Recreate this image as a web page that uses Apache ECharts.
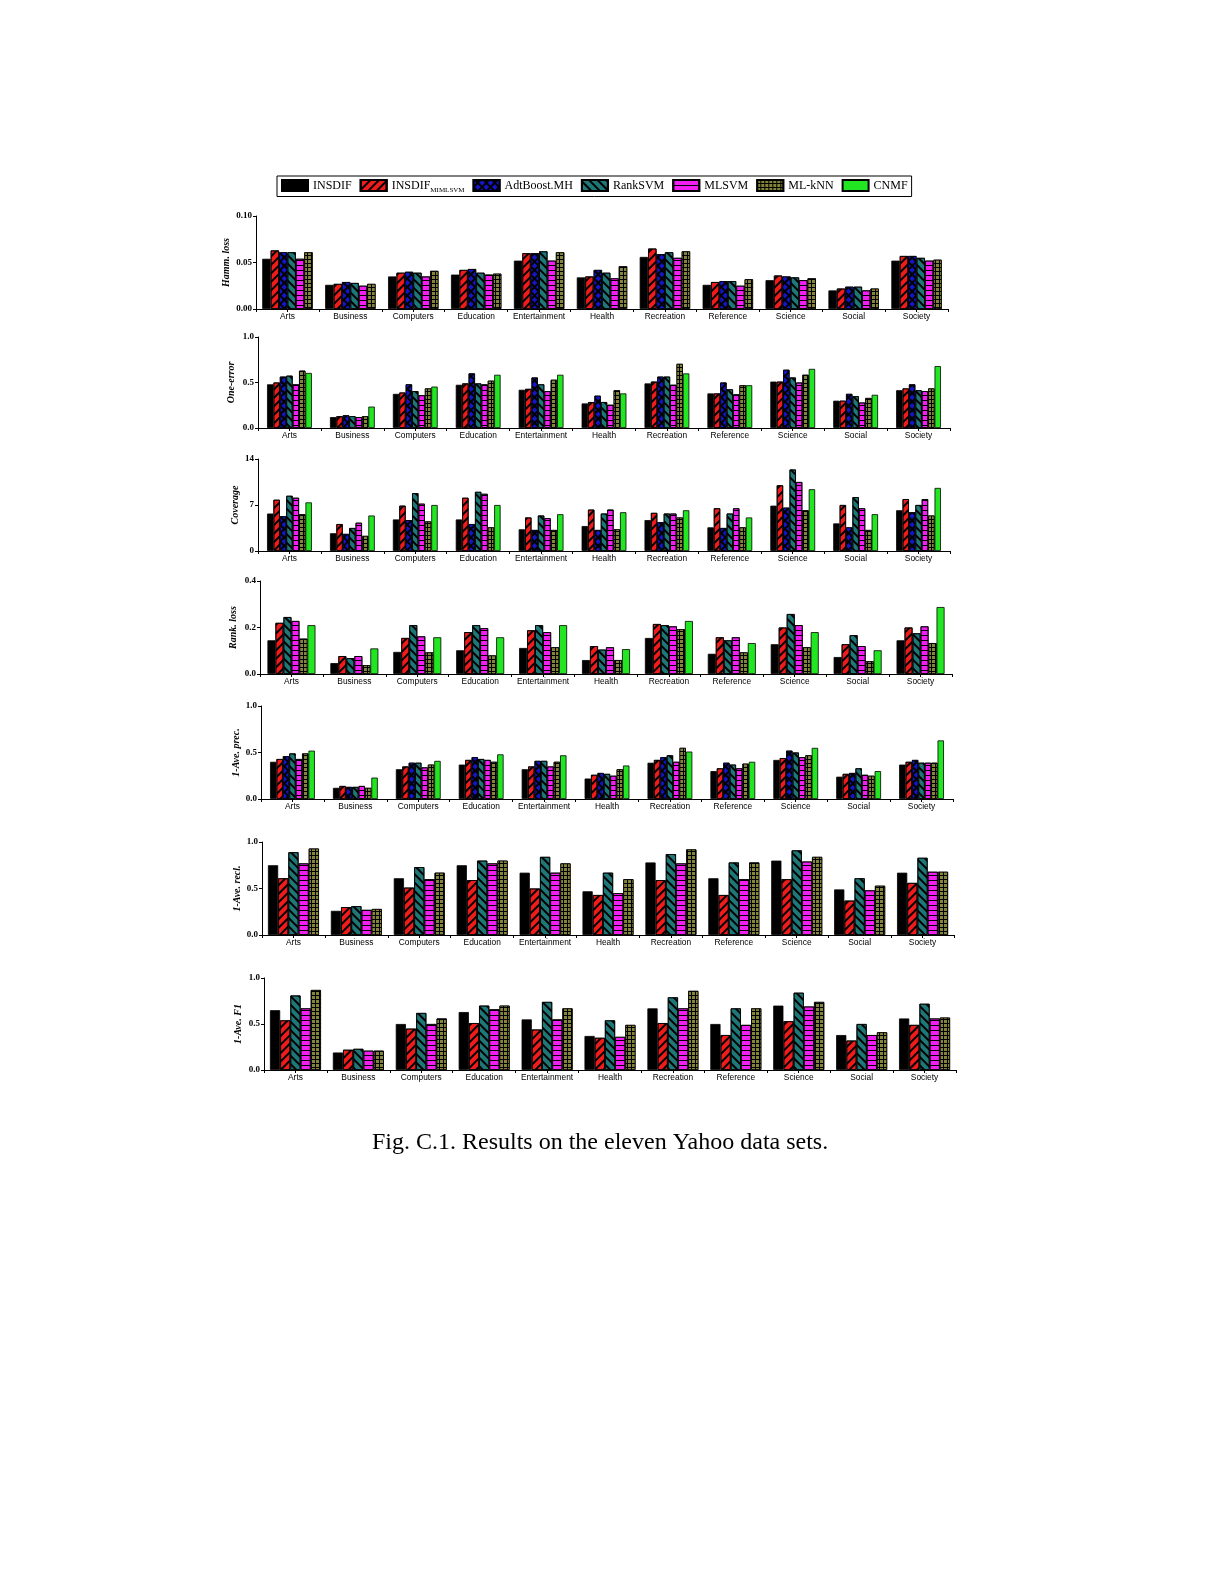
<!DOCTYPE html>
<html><head><meta charset="utf-8">
<script src="https://cdn.jsdelivr.net/npm/echarts@6/dist/echarts.min.js"></script>
<style>html,body{margin:0;padding:0;background:#fff}#c{width:1225px;height:1585px}</style>
</head><body><div id="c"></div>
<script>
const categories = ['Arts','Business','Computers','Education','Entertainment','Health','Recreation','Reference','Science','Social','Society'];
const methods = ['INSDIF','INSDIF_MIMLSVM','AdtBoost.MH','RankSVM','MLSVM','ML-kNN','CNMF'];

// rows follow the method indices listed in the *Methods arrays
const hammMethods = [0,1,2,3,4,5];
const hammLoss = [
  [0.054,0.026,0.035,0.037,0.052,0.034,0.056,0.026,0.031,0.020,0.052],
  [0.063,0.027,0.039,0.042,0.060,0.035,0.065,0.029,0.036,0.022,0.057],
  [0.061,0.029,0.040,0.043,0.060,0.042,0.059,0.030,0.035,0.024,0.057],
  [0.061,0.028,0.039,0.039,0.062,0.039,0.061,0.030,0.034,0.024,0.055],
  [0.054,0.025,0.035,0.037,0.052,0.033,0.055,0.025,0.031,0.020,0.052],
  [0.061,0.027,0.041,0.038,0.061,0.046,0.062,0.032,0.033,0.022,0.053]
];
const oneErrMethods = [0,1,2,3,4,5,6];
const oneError = [
  [0.48,0.12,0.375,0.475,0.42,0.27,0.49,0.38,0.51,0.30,0.415],
  [0.50,0.13,0.39,0.49,0.43,0.285,0.51,0.38,0.51,0.30,0.435],
  [0.565,0.14,0.48,0.60,0.555,0.355,0.565,0.50,0.64,0.375,0.48],
  [0.575,0.13,0.405,0.49,0.48,0.285,0.565,0.425,0.555,0.35,0.415],
  [0.48,0.12,0.36,0.48,0.405,0.255,0.475,0.37,0.50,0.28,0.405],
  [0.63,0.13,0.435,0.52,0.53,0.415,0.705,0.47,0.585,0.33,0.435],
  [0.605,0.235,0.455,0.585,0.585,0.38,0.60,0.47,0.65,0.365,0.68]
];
const coverageMethods = [0,1,2,3,4,5,6];
const coverage = [
  [5.7,2.7,4.8,4.8,3.3,3.8,4.7,3.6,6.9,4.2,6.2],
  [7.8,4.1,6.9,8.1,5.1,6.3,5.8,6.5,10.0,7.0,7.9],
  [5.3,2.6,4.7,4.1,3.2,3.2,4.4,3.5,6.6,3.6,5.9],
  [8.4,3.5,8.8,9.0,5.4,5.7,5.7,5.7,12.4,8.2,7.0],
  [8.1,4.3,7.2,8.7,5.0,6.3,5.7,6.5,10.5,6.5,7.9],
  [5.6,2.3,4.5,3.6,3.2,3.3,5.1,3.6,6.2,3.2,5.4],
  [7.4,5.4,7.0,7.0,5.6,5.9,6.2,5.1,9.4,5.6,9.6]
];
const rankMethods = [0,1,3,4,5,6];
const rankLoss = [
  [0.145,0.047,0.095,0.102,0.112,0.060,0.155,0.087,0.128,0.073,0.145],
  [0.220,0.077,0.155,0.180,0.188,0.120,0.215,0.158,0.200,0.128,0.200],
  [0.245,0.068,0.210,0.210,0.210,0.105,0.210,0.145,0.258,0.167,0.175],
  [0.228,0.077,0.162,0.197,0.180,0.115,0.205,0.158,0.210,0.120,0.205],
  [0.152,0.038,0.093,0.080,0.115,0.060,0.193,0.093,0.115,0.055,0.133],
  [0.210,0.110,0.158,0.158,0.210,0.107,0.228,0.133,0.180,0.102,0.288]
];
const precMethods = [0,1,2,3,4,5,6];
const avePrec = [
  [0.40,0.12,0.32,0.37,0.32,0.22,0.39,0.30,0.42,0.24,0.37],
  [0.43,0.14,0.35,0.42,0.35,0.26,0.42,0.33,0.44,0.27,0.40],
  [0.46,0.13,0.39,0.45,0.41,0.28,0.45,0.39,0.52,0.28,0.42],
  [0.49,0.13,0.39,0.43,0.41,0.27,0.47,0.37,0.50,0.33,0.39],
  [0.43,0.14,0.34,0.42,0.35,0.25,0.40,0.33,0.45,0.26,0.39],
  [0.49,0.12,0.37,0.40,0.40,0.32,0.55,0.38,0.47,0.25,0.39],
  [0.52,0.23,0.41,0.48,0.47,0.36,0.51,0.40,0.55,0.30,0.63]
];
const reclMethods = [0,1,3,4,5];
const aveRecl = [
  [0.75,0.26,0.61,0.75,0.67,0.47,0.78,0.61,0.80,0.49,0.67],
  [0.61,0.30,0.51,0.59,0.50,0.43,0.59,0.43,0.60,0.37,0.56],
  [0.89,0.31,0.73,0.80,0.84,0.67,0.87,0.78,0.91,0.61,0.83],
  [0.77,0.27,0.60,0.77,0.67,0.45,0.77,0.60,0.79,0.48,0.68],
  [0.93,0.28,0.67,0.80,0.77,0.60,0.92,0.78,0.84,0.53,0.68]
];
const f1Methods = [0,1,3,4,5];
const aveF1 = [
  [0.65,0.19,0.50,0.63,0.55,0.37,0.67,0.50,0.70,0.38,0.56],
  [0.54,0.22,0.45,0.51,0.44,0.35,0.51,0.38,0.53,0.32,0.49],
  [0.81,0.23,0.62,0.70,0.74,0.54,0.79,0.67,0.84,0.50,0.72],
  [0.67,0.21,0.50,0.66,0.55,0.36,0.67,0.49,0.69,0.38,0.56],
  [0.87,0.21,0.56,0.70,0.67,0.49,0.86,0.67,0.74,0.41,0.57]
];
const yTitles = ['Hamm. loss','One-error','Coverage','Rank. loss','1-Ave. prec.','1-Ave. recl.','1-Ave. F1'];
const yMax = [0.10,1.0,14,0.4,1.0,1.0,1.0];
const yStep = [0.05,0.5,7,0.2,0.5,0.5,0.5];
const yDigits = [2,1,0,1,1,1,1];

const styles = [
  {color:'#000000'},
  {color:'#f01c1c', decal:{symbol:'rect',symbolSize:1,color:'#000',dashArrayX:[1,0],dashArrayY:[1.2,3.2],rotation:-Math.PI/4}},
  {color:'#000000', decal:{symbol:'rect',symbolSize:1,color:'#1414c8',dashArrayX:[3.2,1.2],dashArrayY:[3.2,1.2],rotation:Math.PI/4}},
  {color:'#1f7878', decal:{symbol:'rect',symbolSize:1,color:'#000',dashArrayX:[1,0],dashArrayY:[1.2,3.2],rotation:Math.PI/4}},
  {color:'#f01ef0', decal:{symbol:'rect',symbolSize:1,color:'#000',dashArrayX:[1,0],dashArrayY:[1,3.5],rotation:0}},
  {color:'#000000', decal:{symbol:'rect',symbolSize:1,color:'#84843a',dashArrayX:[2.6,1],dashArrayY:[2.6,1],rotation:0}},
  {color:'#22e622'}
];

const panels = [
  {data:hammLoss, m:hammMethods, left:256, top:216, h:93, gap:25, bw:8.4},
  {data:oneError, m:oneErrMethods, left:258, top:337, h:91, gap:22, bw:6.4},
  {data:coverage, m:coverageMethods, left:258, top:459, h:92, gap:18, bw:6.4},
  {data:rankLoss, m:rankMethods, left:260, top:581, h:93, gap:22, bw:8.0},
  {data:avePrec, m:precMethods, left:261, top:706, h:93, gap:20, bw:6.4},
  {data:aveRecl, m:reclMethods, left:262, top:842, h:93, gap:20, bw:10.2},
  {data:aveF1, m:f1Methods, left:264, top:978, h:92, gap:21, bw:10.2}
];

const grid=[], xAxis=[], yAxis=[], series=[];
const catFont = {fontFamily:'Liberation Sans', fontSize:8.4, color:'#000'};
panels.forEach((p,i)=>{
  grid.push({left:p.left, top:p.top, width:692, height:p.h});
  xAxis.push({type:'category', gridIndex:i, data:categories,
    axisLine:{lineStyle:{color:'#000',width:1}},
    axisTick:{show:true,length:3,lineStyle:{color:'#000'}},
    axisLabel:Object.assign({margin:4, interval:0}, catFont)});
  xAxis.push({type:'category', gridIndex:i, data:categories, position:'bottom',
    axisLine:{show:false}, axisLabel:{show:false},
    axisTick:{show:true,alignWithLabel:true,length:3,lineStyle:{color:'#000'}}});
  yAxis.push({type:'value', gridIndex:i, min:0, max:yMax[i], interval:yStep[i],
    name:yTitles[i], nameLocation:'middle', nameGap:p.gap, nameMoveOverlap:false,
    nameTextStyle:{fontFamily:'Liberation Serif', fontStyle:'italic', fontWeight:'bold', fontSize:10, color:'#000'},
    axisLine:{show:true,lineStyle:{color:'#000',width:1}},
    axisTick:{show:true,length:3,lineStyle:{color:'#000'}},
    splitLine:{show:false},
    axisLabel:{fontFamily:'Liberation Serif', fontWeight:'bold', fontSize:9, color:'#000', margin:4,
      formatter:v=>v.toFixed(yDigits[i])}});
  p.m.forEach((mi,k)=>{
    series.push({type:'bar', name:methods[mi], xAxisIndex:2*i, yAxisIndex:i,
      data:p.data[k], barWidth:p.bw, barGap:'0%',
      itemStyle:Object.assign({borderColor:'#000',borderWidth:0.8}, styles[mi]),
      emphasis:{disabled:true}, animation:false});
  });
});

const chart = echarts.init(document.getElementById('c'), null, {renderer:'canvas'});
chart.setOption({
  backgroundColor:'#fff',
  animation:false,
  title:{text:'Fig. C.1. Results on the eleven Yahoo data sets.', left:367, top:1126,
    textStyle:{fontFamily:'Liberation Serif', fontWeight:'normal', fontSize:24, color:'#000'}},
  legend:{left:277, top:176, orient:'horizontal', icon:'rect', itemWidth:26, itemHeight:11, itemGap:8,
    borderColor:'#000', borderWidth:1, padding:[3,4,3,4], selectedMode:false,
    data:methods,
    formatter:n=> n==='INSDIF_MIMLSVM' ? 'INSDIF{sub|MIMLSVM}' : n,
    textStyle:{fontFamily:'Liberation Serif', fontSize:12, color:'#000',
      rich:{sub:{fontFamily:'Liberation Serif', fontSize:7, color:'#000', padding:[9,0,0,0]}}}},
  grid, xAxis, yAxis, series
});
</script></body></html>
